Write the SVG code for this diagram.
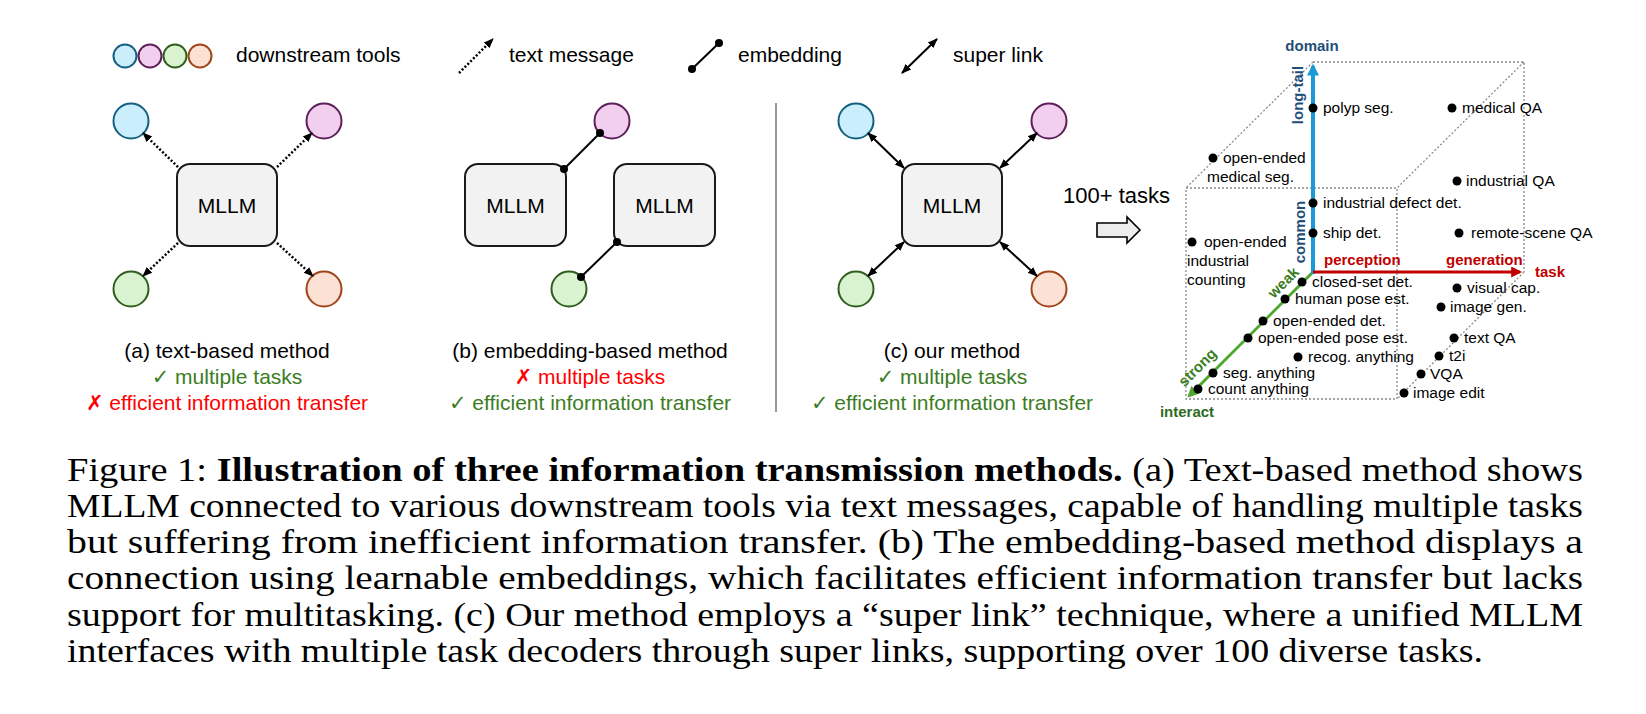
<svg xmlns="http://www.w3.org/2000/svg" width="1646" height="714" viewBox="0 0 1646 714">
<defs>
<style>
.sans{font-family:"Liberation Sans",Arial,"DejaVu Sans",sans-serif;}
.lg{font-size:21px;fill:#000;}
.lbl{font-size:21px;text-anchor:middle;}
.blk{fill:#000;}
.grn{fill:#3B7D23;}
.red{fill:#FF0000;}
.box{fill:#F2F2F2;stroke:#1a1a1a;stroke-width:2;}
.mllm{font-size:21px;text-anchor:middle;fill:#000;}
.cb{fill:#CAEEFB;stroke:#156082;stroke-width:2;}
.cp{fill:#F2CFEE;stroke:#5E1E5B;stroke-width:2;}
.cg{fill:#D9F2D0;stroke:#2F5E1E;stroke-width:2;}
.co{fill:#FBE2D5;stroke:#A0441A;stroke-width:2;}
.dot{fill:none;stroke:#000;stroke-width:2.5;stroke-dasharray:2 2;}
.emb{stroke:#000;stroke-width:2;}
.sup{stroke:#000;stroke-width:2;}
.cube{fill:none;stroke:#8a8a8a;stroke-width:1.3;stroke-dasharray:2 2;}
.tk{font-size:15.5px;fill:#000;}
.ax{font-size:15px;font-weight:bold;}
.cap{font-family:"Liberation Serif","Times New Roman",serif;font-size:34px;fill:#000;}
</style>
<marker id="ah" viewBox="0 0 10 10" refX="9" refY="5" markerWidth="10" markerHeight="10" markerUnits="userSpaceOnUse" orient="auto-start-reverse"><path d="M0,1 L10,5 L0,9 z" fill="#000"/></marker>
<marker id="ahB" viewBox="0 0 10 10" refX="8" refY="5" markerWidth="12" markerHeight="12" markerUnits="userSpaceOnUse" orient="auto"><path d="M0,0 L10,5 L0,10 z" fill="#1A9AD6"/></marker>
<marker id="ahR" viewBox="0 0 10 10" refX="8" refY="5" markerWidth="11" markerHeight="11" markerUnits="userSpaceOnUse" orient="auto"><path d="M0,0 L10,5 L0,10 z" fill="#C00000"/></marker>
<marker id="ahG" viewBox="0 0 10 10" refX="8" refY="5" markerWidth="11" markerHeight="11" markerUnits="userSpaceOnUse" orient="auto"><path d="M0,0 L10,5 L0,10 z" fill="#4EA72E"/></marker>
</defs>
<rect width="1646" height="714" fill="#fff"/>

<!-- legend -->
<g id="legend" class="sans">
<circle cx="125" cy="56" r="11.5" class="cb"/>
<circle cx="150" cy="56" r="11.5" class="cp"/>
<circle cx="175" cy="56" r="11.5" class="cg"/>
<circle cx="200" cy="56" r="11.5" class="co"/>
<text x="236" y="62" class="lg">downstream tools</text>
<line x1="459" y1="73" x2="493" y2="39" class="dot" marker-end="url(#ah)"/>
<text x="509" y="62" class="lg">text message</text>
<line x1="692" y1="69" x2="719" y2="43" class="emb"/>
<circle cx="692" cy="69" r="4"/><circle cx="719" cy="43" r="4"/>
<text x="738" y="62" class="lg">embedding</text>
<line x1="902" y1="73" x2="937" y2="39" class="sup" marker-start="url(#ah)" marker-end="url(#ah)"/>
<text x="953" y="62" class="lg">super link</text>
</g>

<!-- panel a -->
<g id="a-mllm" class="sans"><rect x="177" y="164" width="100" height="82" rx="13" class="box"/><text x="227" y="213" class="mllm">MLLM</text></g>
<g id="a-tool1"><circle cx="131" cy="121" r="17.5" class="cb"/></g>
<g id="a-tool2"><circle cx="324" cy="121" r="17.5" class="cp"/></g>
<g id="a-tool3"><circle cx="131" cy="289" r="17.5" class="cg"/></g>
<g id="a-tool4"><circle cx="324" cy="289" r="17.5" class="co"/></g>

<!-- panel b -->
<g id="b-mllm1" class="sans"><rect x="465" y="164" width="101" height="82" rx="13" class="box"/><text x="515.5" y="213" class="mllm">MLLM</text></g>
<g id="b-mllm2" class="sans"><rect x="614" y="164" width="101" height="82" rx="13" class="box"/><text x="664.5" y="213" class="mllm">MLLM</text></g>
<g id="b-tool1"><circle cx="612" cy="121" r="17.5" class="cp"/></g>
<g id="b-tool2"><circle cx="569" cy="289" r="17.5" class="cg"/></g>

<!-- panel c -->
<g id="c-mllm" class="sans"><rect x="902" y="164" width="100" height="82" rx="13" class="box"/><text x="952" y="213" class="mllm">MLLM</text></g>
<g id="c-tool1"><circle cx="856" cy="121" r="17.5" class="cb"/></g>
<g id="c-tool2"><circle cx="1049" cy="121" r="17.5" class="cp"/></g>
<g id="c-tool3"><circle cx="856" cy="289" r="17.5" class="cg"/></g>
<g id="c-tool4"><circle cx="1049" cy="289" r="17.5" class="co"/></g>

<g id="connectors">
<line x1="178" y1="167" x2="143" y2="133" class="dot" marker-end="url(#ah)"/>
<line x1="277" y1="167" x2="312" y2="133" class="dot" marker-end="url(#ah)"/>
<line x1="178" y1="243" x2="143" y2="276" class="dot" marker-end="url(#ah)"/>
<line x1="277" y1="243" x2="313" y2="276" class="dot" marker-end="url(#ah)"/>
<line x1="564" y1="169" x2="600" y2="133" class="emb"/>
<circle cx="564" cy="169" r="4"/><circle cx="600" cy="133" r="4"/>
<line x1="617" y1="242" x2="581" y2="277" class="emb"/>
<circle cx="617" cy="242" r="4"/><circle cx="581" cy="277" r="4"/>
<line x1="868" y1="133" x2="904" y2="168" class="sup" marker-start="url(#ah)" marker-end="url(#ah)"/>
<line x1="1037" y1="133" x2="1000" y2="168" class="sup" marker-start="url(#ah)" marker-end="url(#ah)"/>
<line x1="904" y1="242" x2="868" y2="276" class="sup" marker-start="url(#ah)" marker-end="url(#ah)"/>
<line x1="1000" y1="242" x2="1037" y2="276" class="sup" marker-start="url(#ah)" marker-end="url(#ah)"/>
</g>

<line x1="776" y1="103" x2="776" y2="412" stroke="#9a9a9a" stroke-width="2"/>

<!-- labels -->
<g id="labels" class="sans">
<text x="227" y="358" class="lbl blk">(a) text-based method</text>
<text x="227" y="384" class="lbl grn">✓ multiple tasks</text>
<text x="227" y="410" class="lbl red">✗ efficient information transfer</text>
<text x="590" y="358" class="lbl blk">(b) embedding-based method</text>
<text x="590" y="384" class="lbl red">✗ multiple tasks</text>
<text x="590" y="410" class="lbl grn">✓ efficient information transfer</text>
<text x="952" y="358" class="lbl blk">(c) our method</text>
<text x="952" y="384" class="lbl grn">✓ multiple tasks</text>
<text x="952" y="410" class="lbl grn">✓ efficient information transfer</text>
</g>

<!-- 100+ tasks -->
<g id="tasks-arrow" class="sans">
<text x="1063" y="203" font-size="22" fill="#000">100+ tasks</text>
<polygon points="1097,223 1127,223 1127,217 1140,230 1127,243 1127,237 1097,237" fill="#EDEDED" stroke="#000" stroke-width="1.6"/>
</g>

<!-- cube -->
<g id="cube">
<path d="M1313,62 H1524 V272 M1313,62 L1186,188 M1524,62 L1397,188 M1524,272 L1397,399 M1186,188 H1397 V399 H1186 Z" class="cube"/>
<line x1="1313" y1="272" x2="1189" y2="396" stroke="#4EA72E" stroke-width="3" marker-end="url(#ahG)"/>
<line x1="1313" y1="274" x2="1313" y2="66" stroke="#1A9AD6" stroke-width="4" marker-end="url(#ahB)"/>
<line x1="1313" y1="272" x2="1520" y2="272" stroke="#C00000" stroke-width="3" marker-end="url(#ahR)"/>
</g>
<g id="axis-labels" class="sans">
<text x="1312" y="51" class="ax" fill="#1F4E79" text-anchor="middle">domain</text>
<text transform="translate(1303,95) rotate(-90)" class="ax" fill="#1F4E79" text-anchor="middle">long-tail</text>
<text transform="translate(1305,232) rotate(-90)" class="ax" fill="#1F4E79" text-anchor="middle">common</text>
<text x="1324" y="265" class="ax" fill="#C00000">perception</text>
<text x="1446" y="265" class="ax" fill="#C00000">generation</text>
<text x="1535" y="277" class="ax" fill="#C00000">task</text>
<text transform="translate(1287,286) rotate(-45)" class="ax" fill="#3B7D23" text-anchor="middle">weak</text>
<text transform="translate(1201,371) rotate(-45)" class="ax" fill="#3B7D23" text-anchor="middle">strong</text>
<text x="1187" y="417" class="ax" fill="#2F6B1F" text-anchor="middle">interact</text>
</g>
<g id="task-points" class="sans">
<circle cx="1313" cy="108" r="4.5"/><text x="1323" y="113" class="tk">polyp seg.</text>
<circle cx="1213" cy="158" r="4.5"/><text x="1223" y="163" class="tk">open-ended</text><text x="1207" y="182" class="tk">medical seg.</text>
<circle cx="1313" cy="203" r="4.5"/><text x="1323" y="208" class="tk">industrial defect det.</text>
<circle cx="1452" cy="108" r="4.5"/><text x="1462" y="113" class="tk">medical QA</text>
<circle cx="1457" cy="181" r="4.5"/><text x="1466" y="186" class="tk">industrial QA</text>
<circle cx="1313" cy="233" r="4.5"/><text x="1323" y="238" class="tk">ship det.</text>
<circle cx="1192" cy="242" r="4.5"/><text x="1204" y="247" class="tk">open-ended</text><text x="1187" y="266" class="tk">industrial</text><text x="1187" y="285" class="tk">counting</text>
<circle cx="1302" cy="282" r="4.5"/><text x="1312" y="287" class="tk">closed-set det.</text>
<circle cx="1285" cy="299" r="4.5"/><text x="1295" y="304" class="tk">human pose est.</text>
<circle cx="1263" cy="321" r="4.5"/><text x="1273" y="326" class="tk">open-ended det.</text>
<circle cx="1248" cy="338" r="4.5"/><text x="1258" y="343" class="tk">open-ended pose est.</text>
<circle cx="1298" cy="357" r="4.5"/><text x="1308" y="362" class="tk">recog. anything</text>
<circle cx="1213" cy="373" r="4.5"/><text x="1223" y="378" class="tk">seg. anything</text>
<circle cx="1198" cy="389" r="4.5"/><text x="1208" y="394" class="tk">count anything</text>
<circle cx="1459" cy="233" r="4.5"/><text x="1471" y="238" class="tk">remote-scene QA</text>
<circle cx="1457" cy="288" r="4.5"/><text x="1467" y="293" class="tk">visual cap.</text>
<circle cx="1441" cy="307" r="4.5"/><text x="1450" y="312" class="tk">image gen.</text>
<circle cx="1454" cy="338" r="4.5"/><text x="1464" y="343" class="tk">text QA</text>
<circle cx="1439" cy="356" r="4.5"/><text x="1449" y="361" class="tk">t2i</text>
<circle cx="1421" cy="374" r="4.5"/><text x="1430" y="379" class="tk">VQA</text>
<circle cx="1404" cy="393" r="4.5"/><text x="1413" y="398" class="tk">image edit</text>
</g>

<!-- caption -->
<g id="caption" class="cap">
<text x="67" y="481" textLength="1516" lengthAdjust="spacingAndGlyphs">Figure 1: <tspan font-weight="bold">Illustration of three information transmission methods.</tspan> (a) Text-based method shows</text>
<text x="67" y="517" textLength="1516" lengthAdjust="spacingAndGlyphs">MLLM connected to various downstream tools via text messages, capable of handling multiple tasks</text>
<text x="67" y="553" textLength="1516" lengthAdjust="spacingAndGlyphs">but suffering from inefficient information transfer.  (b) The embedding-based method displays a</text>
<text x="67" y="589" textLength="1516" lengthAdjust="spacingAndGlyphs">connection using learnable embeddings, which facilitates efficient information transfer but lacks</text>
<text x="67" y="626" textLength="1516" lengthAdjust="spacingAndGlyphs">support for multitasking. (c) Our method employs a “super link” technique, where a unified MLLM</text>
<text x="67" y="662" textLength="1416" lengthAdjust="spacingAndGlyphs">interfaces with multiple task decoders through super links, supporting over 100 diverse tasks.</text>
</g>
</svg>
